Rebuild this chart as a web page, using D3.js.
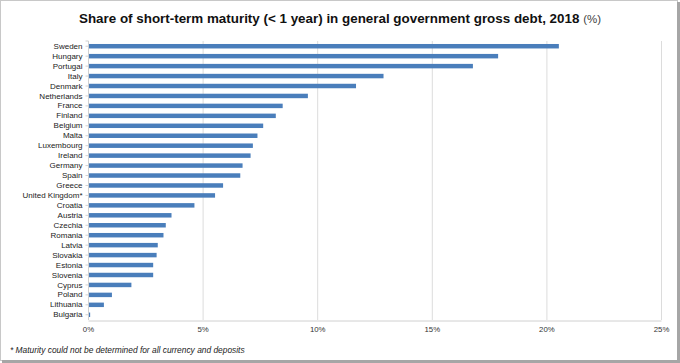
<!DOCTYPE html>
<html>
<head>
<meta charset="utf-8">
<script src="https://cdn.jsdelivr.net/npm/d3@7"></script>
<style>
  html, body { margin: 0; padding: 0; background: #fff; }
  svg { display: block; }
</style>
</head>
<body>
<svg id="chart" width="680" height="363"></svg>
<script>
// data (share of debt, %)
const countries = ["Sweden", "Hungary", "Portugal", "Italy", "Denmark", "Netherlands", "France",
  "Finland", "Belgium", "Malta", "Luxembourg", "Ireland", "Germany", "Spain", "Greece",
  "United Kingdom*", "Croatia", "Austria", "Czechia", "Romania", "Latvia", "Slovakia",
  "Estonia", "Slovenia", "Cyprus", "Poland", "Lithuania", "Bulgaria"];
const shares = [20.5, 17.85, 16.75, 12.85, 11.65, 9.55, 8.45, 8.15, 7.6, 7.35, 7.15, 7.05,
  6.7, 6.6, 5.85, 5.5, 4.6, 3.6, 3.35, 3.25, 3.0, 2.95, 2.8, 2.8, 1.85, 1.0, 0.65, 0.05];
const xTicks = [0, 5, 10, 15, 20, 25];

const width = 680, height = 363;
const plotLeft = 88, plotRight = 661, plotTop = 41, plotBottom = 320;

const svg = d3.select('#chart');

// frame with a little shadow on the right and bottom
svg.append('rect')
  .attr('x', 0.5).attr('y', 0.5)
  .attr('width', width - 3).attr('height', height - 3)
  .attr('fill', 'white')
  .attr('stroke', '#c8c8c8');
svg.append('rect').attr('x', width - 3).attr('y', 2).attr('width', 3).attr('height', height - 2).attr('fill', '#a6a6a6');
svg.append('rect').attr('x', 2).attr('y', height - 3).attr('width', width - 2).attr('height', 3).attr('fill', '#a6a6a6');

const title = svg.append('text')
  .attr('x', 340).attr('y', 23)
  .attr('text-anchor', 'middle')
  .style('font-family', '"Liberation Sans", Arial, sans-serif')
  .style('font-size', '13.4px');
title.append('tspan').attr('font-weight', 'bold').attr('fill', '#111')
  .text('Share of short-term maturity (< 1 year) in general government gross debt, 2018 ');
title.append('tspan').attr('fill', '#444').style('font-size', '11.5px').text('(%)');

const x = d3.scaleLinear().domain([0, 25]).range([plotLeft, plotRight]);
const y = d3.scaleBand().domain(countries).range([plotTop, plotBottom]).paddingInner(0.55).paddingOuter(0.3);

// gridlines
svg.append('g')
  .selectAll('line')
  .data(xTicks.slice(1))
  .join('line')
  .attr('x1', d => x(d) + 0.5).attr('x2', d => x(d) + 0.5)
  .attr('y1', plotTop).attr('y2', plotBottom)
  .attr('stroke', '#dcdcdc');

// bars
svg.append('g')
  .selectAll('rect')
  .data(countries)
  .join('rect')
  .attr('x', x(0) + 1)
  .attr('y', d => y(d))
  .attr('width', (d, i) => Math.max(1, x(shares[i]) - x(0)))
  .attr('height', y.bandwidth())
  .attr('fill', '#4a7ebb');

// y axis
const yAxis = svg.append('g')
  .attr('transform', `translate(${plotLeft + 0.5},0)`)
  .call(d3.axisLeft(y).tickSize(3).tickPadding(3));
yAxis.select('.domain').attr('stroke', '#d0d0d0').attr('d', `M-3,${plotTop}H0V${plotBottom}`);
yAxis.selectAll('.tick line').attr('stroke', '#d0d0d0');
yAxis.selectAll('text')
  .attr('fill', '#222')
  .style('font-family', '"Liberation Sans", Arial, sans-serif')
  .style('font-size', '8px');

// x axis
const xAxis = svg.append('g')
  .attr('transform', `translate(0,${plotBottom + 0.5})`)
  .call(d3.axisBottom(x).tickValues(xTicks).tickFormat(d => d + '%').tickSize(0).tickPadding(6));
xAxis.select('.domain').attr('stroke', '#d0d0d0');
xAxis.selectAll('text')
  .attr('fill', '#333')
  .style('font-family', '"Liberation Sans", Arial, sans-serif')
  .style('font-size', '7.8px');

// footnote
svg.append('text')
  .attr('x', 10).attr('y', 353)
  .attr('fill', '#222')
  .style('font-family', '"Liberation Sans", Arial, sans-serif')
  .style('font-size', '8.4px')
  .style('font-style', 'italic')
  .text('* Maturity could not be determined for all currency and deposits');
</script>
</body>
</html>
